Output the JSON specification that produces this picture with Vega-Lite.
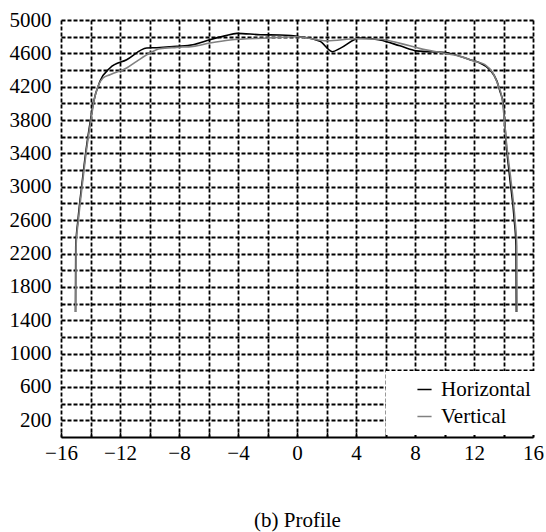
{
  "$schema": "https://vega.github.io/schema/vega-lite/v6.json",
  "autosize": {"type": "none"},
  "width": 472,
  "height": 417,
  "padding": {"left": 61, "top": 20, "right": 13, "bottom": 95},
  "background": "white",
  "config": {
    "font": "Liberation Serif",
    "view": {"stroke": null},
    "axis": {
      "labelFont": "Liberation Serif",
      "labelFontSize": 21,
      "labelColor": "#000000",
      "gridColor": "#000000",
      "gridDash": [4, 2],
      "gridWidth": 1.8,
      "gridOpacity": 1
    },
    "legend": {
      "labelFont": "Liberation Serif",
      "labelFontSize": 21,
      "labelColor": "#000000"
    }
  },
  "data": {
    "values": [
      {"x": -15.02, "v": 1500, "series": "Horizontal"},
      {"x": -15.0, "v": 2280, "series": "Horizontal"},
      {"x": -14.85, "v": 2600, "series": "Horizontal"},
      {"x": -14.55, "v": 3080, "series": "Horizontal"},
      {"x": -14.3, "v": 3444, "series": "Horizontal"},
      {"x": -14.0, "v": 3800, "series": "Horizontal"},
      {"x": -13.8, "v": 4010, "series": "Horizontal"},
      {"x": -13.36, "v": 4264, "series": "Horizontal"},
      {"x": -12.68, "v": 4424, "series": "Horizontal"},
      {"x": -11.55, "v": 4524, "series": "Horizontal"},
      {"x": -10.19, "v": 4664, "series": "Horizontal"},
      {"x": -9.51, "v": 4668, "series": "Horizontal"},
      {"x": -8.16, "v": 4684, "series": "Horizontal"},
      {"x": -7.05, "v": 4704, "series": "Horizontal"},
      {"x": -5.9, "v": 4764, "series": "Horizontal"},
      {"x": -4.9, "v": 4810, "series": "Horizontal"},
      {"x": -4.07, "v": 4840, "series": "Horizontal"},
      {"x": -2.5, "v": 4824, "series": "Horizontal"},
      {"x": -1.15, "v": 4820, "series": "Horizontal"},
      {"x": 0.2, "v": 4800, "series": "Horizontal"},
      {"x": 1.56, "v": 4744, "series": "Horizontal"},
      {"x": 2.4, "v": 4620, "series": "Horizontal"},
      {"x": 2.92, "v": 4660, "series": "Horizontal"},
      {"x": 4.27, "v": 4784, "series": "Horizontal"},
      {"x": 5.63, "v": 4760, "series": "Horizontal"},
      {"x": 6.98, "v": 4690, "series": "Horizontal"},
      {"x": 8.1, "v": 4630, "series": "Horizontal"},
      {"x": 10.03, "v": 4610, "series": "Horizontal"},
      {"x": 11.73, "v": 4524, "series": "Horizontal"},
      {"x": 12.41, "v": 4484, "series": "Horizontal"},
      {"x": 13.08, "v": 4404, "series": "Horizontal"},
      {"x": 13.56, "v": 4264, "series": "Horizontal"},
      {"x": 13.76, "v": 4144, "series": "Horizontal"},
      {"x": 13.97, "v": 4008, "series": "Horizontal"},
      {"x": 14.22, "v": 3444, "series": "Horizontal"},
      {"x": 14.44, "v": 3084, "series": "Horizontal"},
      {"x": 14.73, "v": 2604, "series": "Horizontal"},
      {"x": 14.85, "v": 2284, "series": "Horizontal"},
      {"x": 14.87, "v": 1500, "series": "Horizontal"},
      {"x": -15.0, "v": 1500, "series": "Vertical"},
      {"x": -14.98, "v": 2280, "series": "Vertical"},
      {"x": -14.82, "v": 2600, "series": "Vertical"},
      {"x": -14.52, "v": 3080, "series": "Vertical"},
      {"x": -14.27, "v": 3444, "series": "Vertical"},
      {"x": -13.97, "v": 3800, "series": "Vertical"},
      {"x": -13.75, "v": 4044, "series": "Vertical"},
      {"x": -13.5, "v": 4200, "series": "Vertical"},
      {"x": -13.15, "v": 4304, "series": "Vertical"},
      {"x": -12.68, "v": 4344, "series": "Vertical"},
      {"x": -11.55, "v": 4424, "series": "Vertical"},
      {"x": -10.87, "v": 4504, "series": "Vertical"},
      {"x": -9.97, "v": 4604, "series": "Vertical"},
      {"x": -9.29, "v": 4656, "series": "Vertical"},
      {"x": -8.16, "v": 4672, "series": "Vertical"},
      {"x": -7.05, "v": 4684, "series": "Vertical"},
      {"x": -5.9, "v": 4724, "series": "Vertical"},
      {"x": -4.54, "v": 4760, "series": "Vertical"},
      {"x": -2.0, "v": 4784, "series": "Vertical"},
      {"x": 0.0, "v": 4800, "series": "Vertical"},
      {"x": 2.03, "v": 4750, "series": "Vertical"},
      {"x": 4.07, "v": 4776, "series": "Vertical"},
      {"x": 5.63, "v": 4770, "series": "Vertical"},
      {"x": 7.0, "v": 4720, "series": "Vertical"},
      {"x": 8.3, "v": 4660, "series": "Vertical"},
      {"x": 9.69, "v": 4610, "series": "Vertical"},
      {"x": 11.05, "v": 4564, "series": "Vertical"},
      {"x": 12.07, "v": 4504, "series": "Vertical"},
      {"x": 12.75, "v": 4464, "series": "Vertical"},
      {"x": 13.29, "v": 4364, "series": "Vertical"},
      {"x": 13.63, "v": 4224, "series": "Vertical"},
      {"x": 13.9, "v": 4064, "series": "Vertical"},
      {"x": 14.25, "v": 3444, "series": "Vertical"},
      {"x": 14.5, "v": 3084, "series": "Vertical"},
      {"x": 14.78, "v": 2604, "series": "Vertical"},
      {"x": 14.9, "v": 2284, "series": "Vertical"},
      {"x": 14.92, "v": 1500, "series": "Vertical"}
    ]
  },
  "mark": {"type": "line", "strokeWidth": 1.6, "interpolate": "monotone"},
  "encoding": {
    "x": {
      "field": "x",
      "type": "quantitative",
      "scale": {"domain": [-16, 16], "nice": false, "zero": false},
      "axis": {
        "values": [-16, -14, -12, -10, -8, -6, -4, -2, 0, 2, 4, 6, 8, 10, 12, 14, 16],
        "labelExpr": "datum.value % 4 == 0 ? datum.label : ''",
        "grid": true,
        "domain": true,
        "domainColor": "#000000",
        "domainWidth": 2,
        "ticks": true,
        "tickColor": "#000000",
        "tickWidth": 1.5,
        "tickSize": -5,
        "labelPadding": 10,
        "labelFlush": false,
        "title": "(b) Profile",
        "titleFont": "Liberation Serif",
        "titleFontSize": 21,
        "titleFontWeight": "normal",
        "titleColor": "#000000",
        "titlePadding": 46
      }
    },
    "y": {
      "field": "v",
      "type": "quantitative",
      "scale": {"domain": [0, 5000], "nice": false},
      "axis": {
        "values": [200, 400, 600, 800, 1000, 1200, 1400, 1600, 1800, 2000, 2200, 2400, 2600, 2800, 3000, 3200, 3400, 3600, 3800, 4000, 4200, 4400, 4600, 4800, 5000],
        "labelExpr": "datum.value % 400 == 200 ? datum.label : ''",
        "format": "d",
        "grid": true,
        "domain": false,
        "ticks": false,
        "labelPadding": 10,
        "labelFlush": false,
        "title": null
      }
    },
    "color": {
      "field": "series",
      "type": "nominal",
      "scale": {"domain": ["Horizontal", "Vertical"], "range": ["#000000", "#808080"]},
      "legend": {
        "title": null,
        "orient": "none",
        "legendX": 325,
        "legendY": 351,
        "fillColor": "white",
        "padding": 8,
        "symbolType": "stroke",
        "symbolStrokeWidth": 1.5,
        "symbolSize": 200,
        "symbolOffset": 20,
        "labelOffset": 6,
        "rowPadding": 5
      }
    }
  }
}
